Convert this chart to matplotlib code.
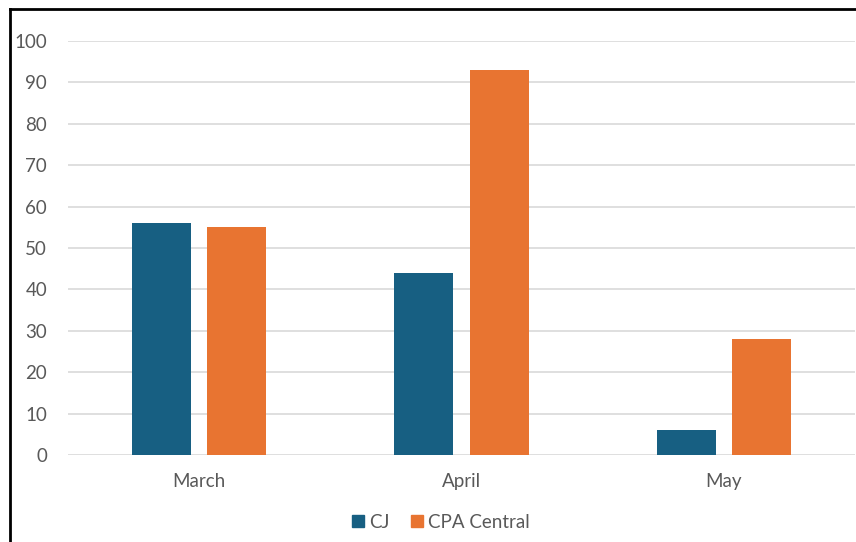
import matplotlib.pyplot as plt
from matplotlib.lines import Line2D
from matplotlib.patches import Patch
import numpy as np

months = ["March", "April", "May"]
cj = [56, 44, 6]
cpa_central = [55, 93, 28]
y_ticks = [0, 10, 20, 30, 40, 50, 60, 70, 80, 90, 100]

plt.rcParams['font.family'] = ['Lato', 'DejaVu Sans']

fig = plt.figure(figsize=(8.56, 5.42), dpi=100)
ax = fig.add_axes([68 / 856, 87 / 542, (855 - 68) / 856, 414 / 542])

x = np.arange(len(months))
width = 0.225
gap = 0.061
blue = "#175F82"
orange = "#E87431"

ax.bar(x - (width + gap) / 2, cj, width, color=blue, zorder=3)
ax.bar(x + (width + gap) / 2, cpa_central, width, color=orange, zorder=3)

ax.set_xlim(-0.5, 2.5)
ax.set_ylim(0, 100)
ax.set_yticks(y_ticks)
ax.set_xticks(x)
ax.set_xticklabels(months)
ax.yaxis.grid(True, color="#D9D9D9", linewidth=1.2, zorder=0)
ax.tick_params(axis="both", length=0, labelsize=13.5, colors="#595959")
ax.tick_params(axis="y", pad=15)
ax.tick_params(axis="x", pad=13)
for s in ax.spines.values():
    s.set_visible(False)

# legend at the bottom
handles = [Patch(color=blue, label="CJ"), Patch(color=orange, label="CPA Central")]
fig.legend(handles=handles, loc="center", bbox_to_anchor=(441 / 856, 1 - 522 / 542),
           ncol=2, frameon=False, fontsize=13.5, handlelength=0.65, handleheight=0.65,
           handletextpad=0.3, columnspacing=1.1, labelcolor="#595959")

# black frame on left and top edges of the screenshot
fig.add_artist(Line2D([10 / 856, 10 / 856], [0, 1 - 9 / 542], color="black", linewidth=2))
fig.add_artist(Line2D([10 / 856, 1], [1 - 9 / 542, 1 - 9 / 542], color="black", linewidth=2))

fig.savefig("out.png", dpi=100)
